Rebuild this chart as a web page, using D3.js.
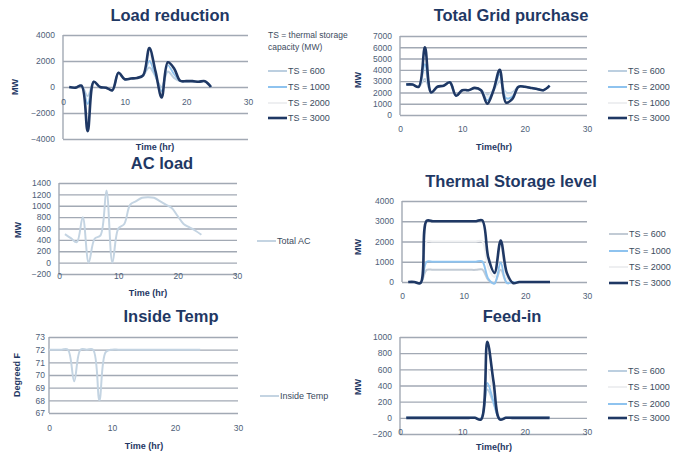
<!DOCTYPE html>
<html>
<head>
<meta charset="utf-8">
<script src="https://cdn.jsdelivr.net/npm/d3@7"></script>
<style>
  body { margin: 0; background: #fff; }
  svg { display: block; font-family: "Liberation Sans", Arial, sans-serif; }
</style>
</head>
<body>
<svg id="chart" width="682" height="455"></svg>
<script>
// hours of the day
var hours = [1,2,3,4,5,6,7,8,9,10,11,12,13,14,15,16,17,18,19,20,21,22,23,24];
var tempHours = [0,1,2,3,4,5,6,7,8,9,10,11,12,13,14,15,16,17,18,19,20,21,22,23,24];
var xTicks = [0, 10, 20, 30];

// Load reduction (MW)
var loadRed600  = [0,-50,100,-700,400,0,-50,-250,1100,600,650,700,900,1500,800,0,1200,700,450,450,450,400,450,0];
var loadRed1000 = [0,-50,100,-1300,400,0,-50,-250,1100,600,650,700,900,2000,900,-300,1700,1000,480,450,450,400,450,0];
var loadRed2000 = [0,-50,100,-2500,400,0,-50,-250,1100,600,650,700,900,2500,1100,-600,1800,1300,500,450,450,400,450,0];
var loadRed3000 = [0,-50,100,-3400,400,0,-50,-250,1100,600,650,700,900,3000,1200,-800,1900,1450,480,450,450,400,450,0];

// Total grid purchase (MW)
var grid600  = [2700,2700,2500,3200,2000,2500,2600,2900,1700,2200,2200,2400,2200,1800,2200,3000,2000,2000,2500,2500,2400,2300,2200,2600];
var grid2000 = [2700,2700,2500,4500,2000,2500,2600,2900,1700,2200,2200,2400,2200,1300,2200,3600,1500,1600,2500,2500,2400,2300,2200,2600];
var grid1000 = [2700,2700,2500,3800,2000,2500,2600,2900,1700,2200,2200,2400,2200,1600,2200,3300,1800,1800,2500,2500,2400,2300,2200,2600];
var grid3000 = [2700,2700,2500,6000,2000,2500,2600,2900,1700,2200,2200,2400,2200,1000,2200,4000,1100,1400,2500,2500,2400,2300,2200,2600];

// AC load (MW)
var acTotal = [500,430,360,800,0,420,480,1270,0,600,680,1020,1080,1140,1150,1140,1080,1020,960,820,680,620,560,490];

// Thermal storage level (MW)
var tsl600  = [0,0,-50,600,600,600,600,600,600,600,600,600,620,100,-50,600,-50,0,0,0,0,0,0,0];
var tsl1000 = [0,0,-50,1000,1000,1000,1000,1000,1000,1000,1000,1000,1020,150,-80,950,-50,0,0,0,0,0,0,0];
var tsl2000 = [0,0,-50,2000,2000,2000,2000,2000,2000,2000,2000,2000,2020,700,250,1900,200,-30,0,0,0,0,0,0];
var tsl3000 = [0,0,-50,3020,3000,3000,3000,3000,3000,3000,3000,3000,3050,1200,450,2050,450,-50,0,0,0,0,0,0];

// Inside temperature (F)
var insideTemp = [72,72,72,72,69.5,72,72,72,68,71.8,72,72,72,72,72,72,72,72,72,72,72,72,72,72,72];

// Feed-in (MW)
var feed600  = [0,0,0,0,0,0,0,0,0,0,0,0,-10,350,180,-10,0,0,0,0,0,0,0,0];
var feed1000 = [0,0,0,0,0,0,0,0,0,0,0,0,-10,600,300,-10,0,0,0,0,0,0,0,0];
var feed2000 = [0,0,0,0,0,0,0,0,0,0,0,0,-15,430,200,-15,0,0,0,0,0,0,0,0];
var feed3000 = [0,0,0,0,0,0,0,0,0,0,0,0,-20,940,450,-20,0,0,0,0,0,0,0,0];

var navy = "#1f3864", ltBlue = "#8ec3ef", grayBlue = "#bccfe0", nearWhite = "#eeeff1";

var svg = d3.select("#chart");

function panel(p) {
  var g = svg.append("g");
  var x = d3.scaleLinear().domain([0, 30]).range([p.left, p.right]);
  var y = d3.scaleLinear().domain(p.yDomain).range([p.bottom, p.top]);

  // y gridlines + labels
  var ya = g.append("g")
    .attr("transform", "translate(" + p.left + ",0)")
    .call(d3.axisLeft(y).tickValues(p.yTicks).tickFormat(d3.format("d"))
      .tickSize(-(p.right - p.left)).tickPadding(p.pad || 8));
  ya.select(".domain").remove();
  ya.selectAll("line").attr("stroke", "#a2a9b4").attr("stroke-width", 1.4);
  ya.selectAll("text").attr("fill", "#4e6078").style("font-size", "8.5px");

  g.append("line")
    .attr("x1", p.left).attr("x2", p.left)
    .attr("y1", p.top).attr("y2", p.bottom)
    .attr("stroke", "#a2a9b4").attr("stroke-width", 1.4);

  // x labels
  var xa = g.append("g")
    .attr("transform", "translate(0," + p.xLabelY + ")")
    .call(d3.axisBottom(x).tickValues(xTicks).tickFormat(d3.format("d")).tickSize(0).tickPadding(0));
  xa.select(".domain").remove();
  xa.selectAll("text").attr("fill", "#4e6078").style("font-size", "8.5px");

  // series
  var line = d3.line()
    .x(function (d) { return x(d[0]); })
    .y(function (d) { return y(d[1]); })
    .curve(d3.curveCatmullRom.alpha(0.5));

  p.series.forEach(function (s) {
    g.append("path")
      .datum(s.x.map(function (h, i) { return [h, s.values[i]]; }))
      .attr("fill", "none")
      .attr("stroke", s.color)
      .attr("stroke-width", s.width || 2)
      .attr("stroke-linejoin", "round")
      .attr("d", line);
  });

  // titles
  g.append("text").attr("x", p.titleX).attr("y", p.titleY)
    .attr("text-anchor", "middle").attr("fill", navy)
    .style("font-size", "16.5px").style("font-weight", "bold").text(p.title);

  g.append("text")
    .attr("transform", "translate(" + p.yLabelX + "," + p.yLabelY + ") rotate(-90)")
    .attr("text-anchor", "middle").attr("dy", "0.35em").attr("fill", navy)
    .style("font-size", "9px").style("font-weight", "bold").text(p.yLabel);

  if (p.xLabel) {
    g.append("text").attr("x", p.xLabelX).attr("y", p.xTitleY)
      .attr("text-anchor", "middle").attr("fill", navy)
      .style("font-size", "9px").style("font-weight", "bold").text(p.xLabel);
  }

  // legend
  p.legend.forEach(function (s, i) {
    var ly = p.legendY[i];
    g.append("line")
      .attr("x1", p.legendX).attr("x2", p.legendX + 19)
      .attr("y1", ly).attr("y2", ly)
      .attr("stroke", s.color).attr("stroke-width", s.width || 2);
    g.append("text").attr("x", p.legendX + 20).attr("y", ly).attr("dy", "0.35em")
      .attr("fill", "#3c4b60").style("font-size", "9px").text(s.name);
  });
  return g;
}

function ser(name, x, values, color, width) {
  return { name: name, x: x, values: values, color: color, width: width };
}

// Load reduction
var lr = [ser("TS = 600", hours, loadRed600, grayBlue), ser("TS = 1000", hours, loadRed1000, ltBlue),
          ser("TS = 2000", hours, loadRed2000, nearWhite), ser("TS = 3000", hours, loadRed3000, navy, 2.6)];
panel({ title: "Load reduction", titleX: 170, titleY: 21,
  left: 63, right: 248, top: 35, bottom: 139, yDomain: [-4000, 4000], yTicks: [-4000,-2000,0,2000,4000],
  xLabelY: 99, yLabel: "MW", yLabelX: 15, yLabelY: 87,
  xLabel: "Time (hr)", xLabelX: 155, xTitleY: 150,
  series: lr, legend: lr, legendX: 268, legendY: [71, 87, 103, 118] });
svg.append("text").attr("x", 268).attr("y", 38).attr("fill", "#3c4b60").style("font-size", "8.5px").text("TS = thermal storage");
svg.append("text").attr("x", 268).attr("y", 50).attr("fill", "#3c4b60").style("font-size", "8.5px").text("capacity (MW)");

// Total Grid purchase
var gp = [ser("TS = 600", hours, grid600, grayBlue), ser("TS = 2000", hours, grid2000, ltBlue),
          ser("TS = 1000", hours, grid1000, nearWhite), ser("TS = 3000", hours, grid3000, navy, 2.6)];
panel({ title: "Total Grid purchase", titleX: 511, titleY: 21,
  left: 400, right: 587, top: 36, bottom: 115, yDomain: [0, 7000], yTicks: [0,1000,2000,3000,4000,5000,6000,7000],
  xLabelY: 126, yLabel: "MW", yLabelX: 358, yLabelY: 80,
  xLabel: "Time(hr)", xLabelX: 494, xTitleY: 150,
  series: [gp[0], gp[2], gp[1], gp[3]], legend: gp, legendX: 608, legendY: [71, 87, 103, 118] });

// AC load
var ac = [ser("Total AC", hours, acTotal, "#c4d4e2")];
panel({ title: "AC load", titleX: 162, titleY: 169,
  left: 59, right: 237, top: 183, bottom: 274, yDomain: [-200, 1400], yTicks: [-200,0,200,400,600,800,1000,1200,1400],
  xLabelY: 273, yLabel: "MW", yLabelX: 18, yLabelY: 230,
  xLabel: "Time (hr)", xLabelX: 148, xTitleY: 296,
  series: ac, legend: ac, legendX: 257, legendY: [241] });

// Thermal Storage level
var tl = [ser("TS = 600", hours, tsl600, "#c2cbd5"), ser("TS = 1000", hours, tsl1000, ltBlue),
          ser("TS = 2000", hours, tsl2000, nearWhite), ser("TS = 3000", hours, tsl3000, navy, 2.6)];
panel({ title: "Thermal Storage level", titleX: 511, titleY: 187,
  left: 402, right: 587, top: 201, bottom: 282, yDomain: [0, 4000], yTicks: [0,1000,2000,3000,4000],
  xLabelY: 293, yLabel: "MW", yLabelX: 358, yLabelY: 247,
  series: tl, legend: tl, legendX: 609, legendY: [234, 251, 267, 283] });

// Inside Temp
var it = [ser("Inside Temp", tempHours, insideTemp, "#c4d4e2")];
panel({ title: "Inside Temp", titleX: 171, titleY: 322,
  left: 49, right: 238, top: 337, bottom: 413, yDomain: [67, 73], yTicks: [67,68,69,70,71,72,73], pad: 4,
  xLabelY: 425, yLabel: "Degreed F", yLabelX: 17, yLabelY: 375,
  xLabel: "Time (hr)", xLabelX: 144, xTitleY: 449,
  series: it, legend: it, legendX: 260, legendY: [396] });

// Feed-in
var fi = [ser("TS = 600", hours, feed600, grayBlue), ser("TS = 1000", hours, feed1000, nearWhite),
          ser("TS = 2000", hours, feed2000, ltBlue), ser("TS = 3000", hours, feed3000, navy, 2.6)];
panel({ title: "Feed-in", titleX: 512, titleY: 322,
  left: 400, right: 587, top: 337, bottom: 434, yDomain: [-200, 1000], yTicks: [-200,0,200,400,600,800,1000],
  xLabelY: 429, yLabel: "MW", yLabelX: 358, yLabelY: 387,
  xLabel: "Time(hr)", xLabelX: 494, xTitleY: 450,
  series: [fi[1], fi[0], fi[2], fi[3]], legend: fi, legendX: 608, legendY: [371, 387, 404, 418] });
</script>
</body>
</html>
